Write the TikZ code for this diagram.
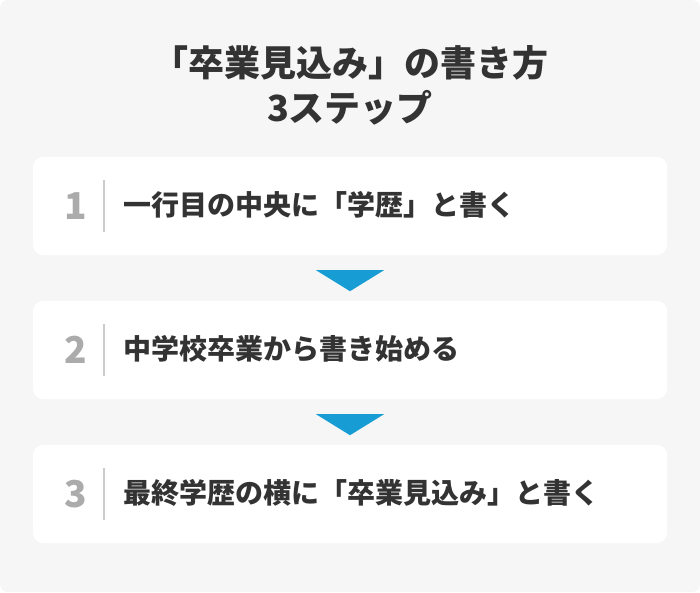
\documentclass[tikz,border=0pt]{standalone}
\usepackage{fontspec}
\setmainfont{Noto Sans CJK JP}
\usetikzlibrary{positioning}

\definecolor{panelgray}{HTML}{F6F6F6}
\definecolor{textgray}{HTML}{333333}
\definecolor{numgray}{HTML}{ABABAB}
\definecolor{rulegray}{HTML}{CCCCCC}
\definecolor{arrowblue}{HTML}{179DD4}

\tikzset{
  stepbox/.style={fill=white, rounded corners=10pt, minimum width=634pt, minimum height=98pt, inner sep=0pt},
  stepnum/.style={text=numgray, font=\bfseries\fontsize{37}{40}\selectfont, inner sep=0pt},
  steptext/.style={text=textgray, font=\bfseries\fontsize{28}{32}\selectfont, inner sep=0pt, anchor=west},
  steprule/.style={rulegray, line width=1.6pt},
  stepmark/.style={fill=arrowblue}
}

\begin{document}
\begin{tikzpicture}[x=1pt, y=-1pt]
  % background panel
  \useasboundingbox (0,0) rectangle (700,592);
  \fill[white] (0,0) rectangle (700,592);
  \fill[panelgray, rounded corners=8pt] (0,0) rectangle (700,592);

  % title
  \node[text=textgray, font=\bfseries\fontsize{36}{45}\selectfont, align=center] (title) at (350,85.5)
    {「卒業見込み」の書き方\\3ステップ};

  % step boxes
  \node[stepbox] (s1) at (350,206) {};
  \node[stepbox] (s2) at (350,350) {};
  \node[stepbox] (s3) at (350,494) {};

  % numbers, rules and texts
  \foreach \i/\txt in {1/一行目の中央に「学歴」と書く, 2/中学校卒業から書き始める, 3/最終学歴の横に「卒業見込み」と書く} {
    \node[stepnum] (n\i) at ([xshift=-274pt]s\i.center) {\i};
    \draw[steprule] ([xshift=-246pt,yshift=26pt]s\i.center) coordinate (r\i a) -- ([xshift=-246pt,yshift=-26pt]s\i.center) coordinate (r\i b);
    \node[steptext] (t\i) at ([xshift=-227pt,yshift=1pt]s\i.center) {\txt};
  }

  % down markers between boxes
  \fill[stepmark] (s1.south) ++(-34,15) coordinate (m1) -- ++(68,0) -- ++(-34,21) -- cycle;
  \fill[stepmark] (s2.south) ++(-34,15) coordinate (m2) -- ++(68,0) -- ++(-34,21) -- cycle;
\end{tikzpicture}
\end{document}
